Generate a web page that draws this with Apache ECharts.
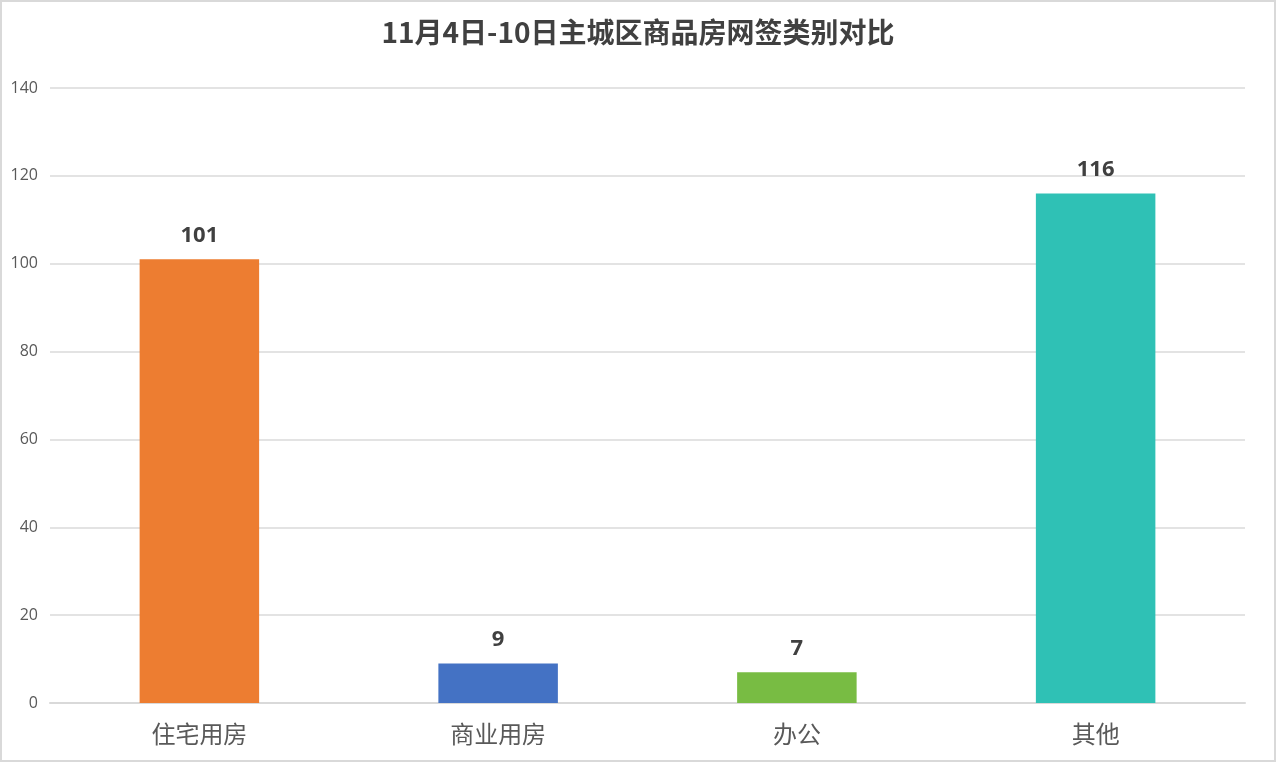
<!DOCTYPE html>
<html lang="zh">
<head>
  <meta charset="UTF-8">
  <title>11月4日-10日主城区商品房网签类别对比</title>
  <script src="https://cdn.jsdelivr.net/npm/echarts@6/dist/echarts.min.js"></script>
  <style>
    html, body { margin: 0; padding: 0; background: #fff; }
    #chart {
      width: 1276px;
      height: 762px;
      box-sizing: border-box;
      border: 2px solid #d9d9d9;
    }
  </style>
</head>
<body>
<div id="chart"></div>
<script>
  // 数据
  var categories = ['住宅用房', '商业用房', '办公', '其他'];
  var values = [101, 9, 7, 116];
  var barColors = ['#ED7D31', '#4472C4', '#78BC43', '#2FC1B5'];
  var yTicks = [0, 20, 40, 60, 80, 100, 120, 140];

  var chart = echarts.init(document.getElementById('chart'));

  var option = {
    title: {
      text: '11月4日-10日主城区商品房网签类别对比',
      left: 'center',
      top: 11,
      textStyle: {
        fontFamily: 'Noto Sans CJK SC',
        fontSize: 28,
        fontWeight: 'bold',
        color: '#404040'
      }
    },
    grid: {
      left: 48,
      right: 29,
      top: 86,
      bottom: 57
    },
    xAxis: {
      type: 'category',
      data: categories,
      axisTick: { show: false },
      axisLine: { lineStyle: { color: '#d9d9d9', width: 2 } },
      axisLabel: {
        margin: 19,
        fontFamily: 'Noto Sans CJK SC',
        fontSize: 24,
        color: '#595959'
      }
    },
    yAxis: {
      type: 'value',
      min: yTicks[0],
      max: yTicks[yTicks.length - 1],
      interval: 20,
      axisLine: { show: false },
      axisTick: { show: false },
      axisLabel: {
        margin: 12,
        fontFamily: 'Open Sans',
        fontSize: 16,
        color: '#595959'
      },
      splitLine: { lineStyle: { color: '#e3e3e3', width: 2 } }
    },
    series: [{
      type: 'bar',
      barWidth: '40%',
      data: values.map(function (v, i) {
        return { value: v, itemStyle: { color: barColors[i] } };
      }),
      label: {
        show: true,
        position: 'top',
        distance: 13,
        fontFamily: 'Open Sans',
        fontSize: 22,
        fontWeight: 'bold',
        color: '#404040'
      }
    }]
  };

  chart.setOption(option);
</script>
</body>
</html>
